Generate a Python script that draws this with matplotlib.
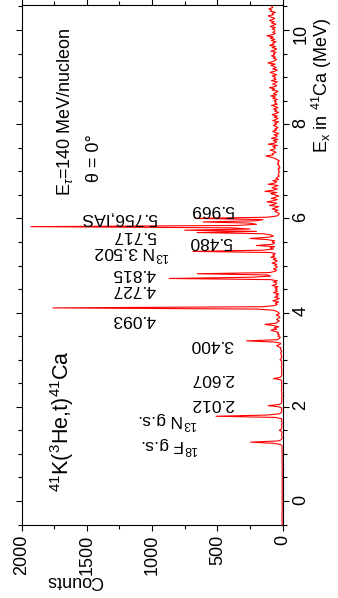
import numpy as np
import matplotlib.pyplot as plt
from matplotlib.ticker import MultipleLocator

plt.rcParams['font.family'] = ['Liberation Sans', 'DejaVu Sans']
plt.rcParams['mathtext.fontset'] = 'custom'
plt.rcParams['mathtext.rm'] = 'Liberation Sans'
plt.rcParams['mathtext.it'] = 'Liberation Sans:italic'

# spectrum: counts per channel, channels of 25 keV starting at -0.5 MeV
ex_start = -0.5
ex_step = 0.025
counts = [
    3, 5, 2, 4, 6, 3, 2, 5, 4, 3, 6, 2, 4, 3, 5, 2, 3, 4, 2, 5,            # -0.5
    4, 2, 3, 5, 2, 3, 4, 2, 6, 3, 2, 4, 3, 2, 5, 3, 2, 4, 3, 2,            # 0.0
    3, 2, 4, 2, 3, 5, 2, 3, 2, 4, 3, 2, 3, 5, 2, 4, 3, 2, 6, 3,            # 0.5
    4, 3, 5, 2, 6, 4, 3, 5, 15, 70, 245, 35, 10, 6, 4, 5, 8, 6, 4, 7,      # 1.0
    25, 12, 6, 8, 5, 7, 4, 6, 8, 5, 9, 60, 510, 120, 25, 10, 6, 8, 7, 5,   # 1.5
    30, 110, 25, 10, 6, 8, 5, 9, 7, 4, 6, 8, 5, 7, 10, 6, 4, 8, 5, 7,      # 2.0
    6, 8, 5, 15, 70, 20, 8, 6, 5, 9, 7, 4, 8, 6, 10, 7, 5, 8, 6, 9,        # 2.5
    20, 8, 10, 6, 12, 9, 15, 7, 10, 18, 12, 30, 46, 20, 15, 60, 276, 40, 25, 18,   # 3.0
    35, 25, 40, 30, 55, 90, 45, 65, 30, 70, 135, 50, 40, 25, 45, 35, 20, 30, 50, 25,   # 3.5
    30, 45, 70, 200, 1760, 150, 60, 40, 55, 30, 75, 45, 25, 60, 35, 50, 30, 70, 40, 55,  # 4.0
    40, 60, 35, 80, 50, 45, 70, 40, 90, 869, 250, 90, 120, 654, 100, 60, 45, 70, 50, 40,  # 4.5
    60, 45, 80, 55, 40, 70, 50, 90, 60, 75, 55, 85, 687, 150, 70, 95, 60, 200, 80, 60,   # 5.0
    80, 60, 120, 250, 110, 70, 90, 150, 655, 200, 750, 250, 400, 1929, 350, 200, 250, 610, 200, 150,  # 5.5
    670, 120, 45, 30, 25, 40, 60, 35, 80, 55, 30, 100, 65, 45, 120, 70, 40, 85, 55, 30,  # 6.0
    60, 90, 45, 135, 70, 40, 80, 55, 35, 110, 60, 45, 75, 30, 50, 40, 25, 35, 30, 25,    # 6.5
    30, 25, 35, 20, 30, 25, 40, 30, 35, 25, 45, 60, 90, 128, 70, 80, 50, 65, 95, 60,     # 7.0
    55, 75, 40, 110, 60, 45, 70, 35, 85, 50, 40, 65, 30, 55, 75, 45, 60, 35, 50, 70,     # 7.5
    45, 60, 30, 75, 50, 35, 65, 40, 80, 55, 30, 60, 45, 70, 35, 55, 85, 40, 60, 50,      # 8.0
    65, 40, 75, 55, 90, 45, 70, 50, 35, 80, 60, 100, 55, 45, 75, 60, 40, 85, 50, 65,     # 8.5
    55, 80, 45, 70, 95, 60, 40, 75, 50, 65, 90, 55, 113, 80, 60, 45, 70, 55, 85, 60,     # 9.0
    70, 50, 90, 60, 45, 80, 55, 100, 65, 75, 50, 85, 60, 95, 70, 120, 80, 55, 75, 60,    # 9.5
    60, 80, 55, 95, 70, 50, 85, 65, 100, 75, 60, 90, 110, 70, 80, 55, 95, 85, 105, 75,   # 10.0
    80, 90,
]

# peak labels: text, counts position, Ex position
peak_labels = ['5.969', '5.756,IAS', '5.717', '5.480', r'$^{13}$N 3.502',
               '4.815', '4.727', '4.093', '3.400', '2.607', '2.012',
               r'$^{13}$N g.s.', r'$^{18}$F g.s.']
label_cnt = [540, 1253, 1138, 549, 1153, 1138, 1138, 1138, 541, 541, 541, 880, 860]
label_ex = [6.19, 6.02, 5.64, 5.50, 5.25, 4.84, 4.48, 3.86, 3.33, 2.61, 2.06, 1.71, 1.18]

ex = ex_start + ex_step * np.arange(len(counts))

fig = plt.figure(figsize=(3.38, 5.98), dpi=100)
ax = fig.add_axes([0.064, 0.122, 0.772, 0.8696])

ax.plot(counts, ex, color='red', lw=0.8)

ax.set_xlim(2000, 0)
ax.set_ylim(-0.51, 10.53)
ax.set_xticks([0, 500, 1000, 1500, 2000])
ax.xaxis.set_minor_locator(MultipleLocator(250))
ax.set_yticks([0, 2, 4, 6, 8, 10])
ax.yaxis.set_minor_locator(MultipleLocator(0.5))
ax.yaxis.tick_right()
ax.tick_params(which='both', direction='out', top=True, bottom=True,
               left=True, right=True, labelleft=False, labelright=True,
               labeltop=False, labelbottom=True, labelsize=13, width=0.8, pad=3)
ax.tick_params(which='major', length=4)
ax.tick_params(which='minor', length=3)
ax.tick_params(axis='x', labelrotation=90)
ax.tick_params(axis='y', labelrotation=90)
for s in ax.spines.values():
    s.set_linewidth(0.8)

for txt, c, e in zip(peak_labels, label_cnt, label_ex):
    ax.text(c, e, txt, rotation=180, ha='center', va='center', fontsize=12.5)

ax.text(1690, 1.70, r'$^{41}$K($^{3}$He,t)$^{41}$Ca', rotation=90,
        ha='center', va='center', fontsize=15.5)
ax.text(1668, 8.26, r'E$_{\tau}$=140 MeV/nucleon', rotation=90,
        ha='center', va='center', fontsize=13)
ax.text(1445, 7.28, 'θ = 0°', rotation=90, ha='center', va='center', fontsize=13)

ax.text(-301, 8.83, r'E$_{\mathrm{x}}$ in $^{41}$Ca (MeV)', rotation=90,
        ha='center', va='center', fontsize=13, clip_on=False)
ax.text(1592, -1.68, 'Counts', rotation=180, ha='center', va='center',
        fontsize=13, clip_on=False)

fig.savefig('out.png', dpi=100)
